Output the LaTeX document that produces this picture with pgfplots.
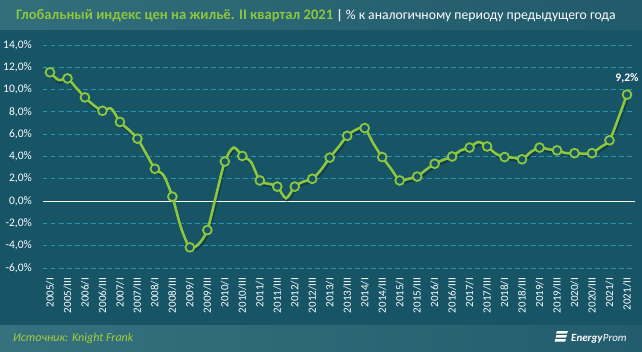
\documentclass[border=0pt]{standalone}
\usepackage{pgfplots}
\pgfplotsset{compat=1.18}
\usepackage{fontspec}
\setmainfont{Carlito}
\definecolor{bgmain}{RGB}{22,84,102}
\definecolor{hdrL}{RGB}{50,110,124}
\definecolor{hdrR}{RGB}{33,90,106}
\definecolor{ftrL}{RGB}{53,113,127}
\definecolor{ftrR}{RGB}{35,93,109}
\definecolor{gridc}{RGB}{40,150,175}
\definecolor{lgreen}{RGB}{141,198,63}
\definecolor{sgreen}{RGB}{165,205,57}
\begin{document}
\begin{tikzpicture}[x=1pt,y=1pt]
\useasboundingbox (0,0) rectangle (642,351);
\fill[bgmain] (0,0) rectangle (642,351);
\shade[left color=hdrL, right color=hdrR] (0,321.5) rectangle (642,351);
\shade[left color=ftrL, right color=ftrR] (0,0) rectangle (642,26);
\node[anchor=base west, inner sep=0] at (16,331) {\fontsize{14.6}{16}\selectfont\textbf{\textcolor{lgreen}{Глобальный индекс цен на жильё. II квартал 2021}}\fontsize{13.7}{16}\selectfont\ \textcolor{white!85!gray}{\textbf{|}} \textcolor{white}{\% к аналогичному периоду предыдущего года}};
\node[anchor=base west, inner sep=0] at (13,9.5) {\fontsize{12}{14}\selectfont\itshape\color{sgreen}Источник: Knight Frank};
% logo
\fill[white] (557,20) -- (568,20) -- (567,17.5) -- (556,17.5) -- cycle;
\fill[white] (556.5,16) -- (567,16) -- (566,13.5) -- (555.5,13.5) -- cycle;
\fill[white] (555.5,12) -- (566,12) -- (565,9.3) -- (554.5,9.3) -- cycle;
\node[anchor=base west, inner sep=0] at (571,9.5) {\fontsize{11}{13}\selectfont\color{white}\textbf{\textit{Energy}}\textit{Prom}};
\begin{axis}[
  at={(43pt,83pt)}, anchor=south west,
  scale only axis, width=592pt, height=223pt,
  xmin=-0.8, xmax=66.92, ymin=-6, ymax=14,
  axis line style={draw=none}, tick style={draw=none},
  clip=false,
  ytick={-6,-4,...,14},
  yticklabels={{-6,0\%},{-4,0\%},{-2,0\%},{0,0\%},{2,0\%},{4,0\%},{6,0\%},{8,0\%},{10,0\%},{12,0\%},{14,0\%}},
  xtick={0,2,...,66},
  xticklabels={2005/I,2005/III,2006/I,2006/III,2007/I,2007/III,2008/I,2008/III,2009/I,2009/III,2010/I,2010/III,2011/I,2011/III,2012/I,2012/III,2013/I,2013/III,2014/I,2014/III,2015/I,2015/III,2016/I,2016/III,2017/I,2017/III,2018/I,2018/III,2019/I,2019/III,2020/I,2020/III,2021/I,2021/II},
  yticklabel style={font=\fontsize{11.5}{12}\selectfont, text=white, anchor=east, inner sep=0pt},
  yticklabel shift=11pt,
  xticklabel style={font=\fontsize{11}{12}\selectfont, text=white, rotate=90, anchor=east, inner sep=0pt},
  xticklabel shift=10pt,
  ymajorgrids,
  grid style={gridc, line width=0.8pt, dash pattern=on 4.5pt off 3.5pt},
]
\draw[white, line width=1pt] (axis cs:-0.8,0) -- (axis cs:66.92,0);
\pgfplotstableread{
x y
0 11.55
1 10.85
2 11.0
3 10.15
4 9.3
5 8.6
6 8.1
7 8.3
8 7.1
9 6.4
10 5.6
11 4.25
12 2.9
13 2.3
14 0.4
15 -2.4
16 -4.15
17 -3.85
18 -2.6
19 0.5
20 3.55
21 4.8
22 4.05
23 3.5
24 1.85
25 1.55
26 1.3
27 0.25
28 1.3
29 1.75
30 2.0
31 2.8
32 3.9
33 4.85
34 5.85
35 6.4
36 6.55
37 5.15
38 3.95
39 2.9
40 1.85
41 2.0
42 2.2
43 2.8
44 3.35
45 3.7
46 4.0
47 4.55
48 4.8
49 5.3
50 4.9
51 4.25
52 3.95
53 3.9
54 3.75
55 4.4
56 4.8
57 4.65
58 4.55
59 4.3
60 4.3
61 4.25
62 4.3
63 4.85
64 5.45
65 7.4
66 9.55
}\datatable
\addplot[black, opacity=0.25, line width=3pt, smooth, tension=0.5, no marks, xshift=1pt, yshift=-2pt, forget plot] table {\datatable};
\addplot[lgreen, line width=2.6pt, smooth, tension=0.5, mark=*, mark repeat=2,
  mark size=4.4pt, mark options={draw=lgreen, fill=bgmain, line width=1.8pt, solid}] table {\datatable};
\node[anchor=south, text=white, font=\fontsize{11.5}{12}\selectfont\bfseries, inner sep=0pt] at (axis cs:66,9.55) [yshift=11pt] {9,2\%};
\end{axis}
\end{tikzpicture}
\end{document}
